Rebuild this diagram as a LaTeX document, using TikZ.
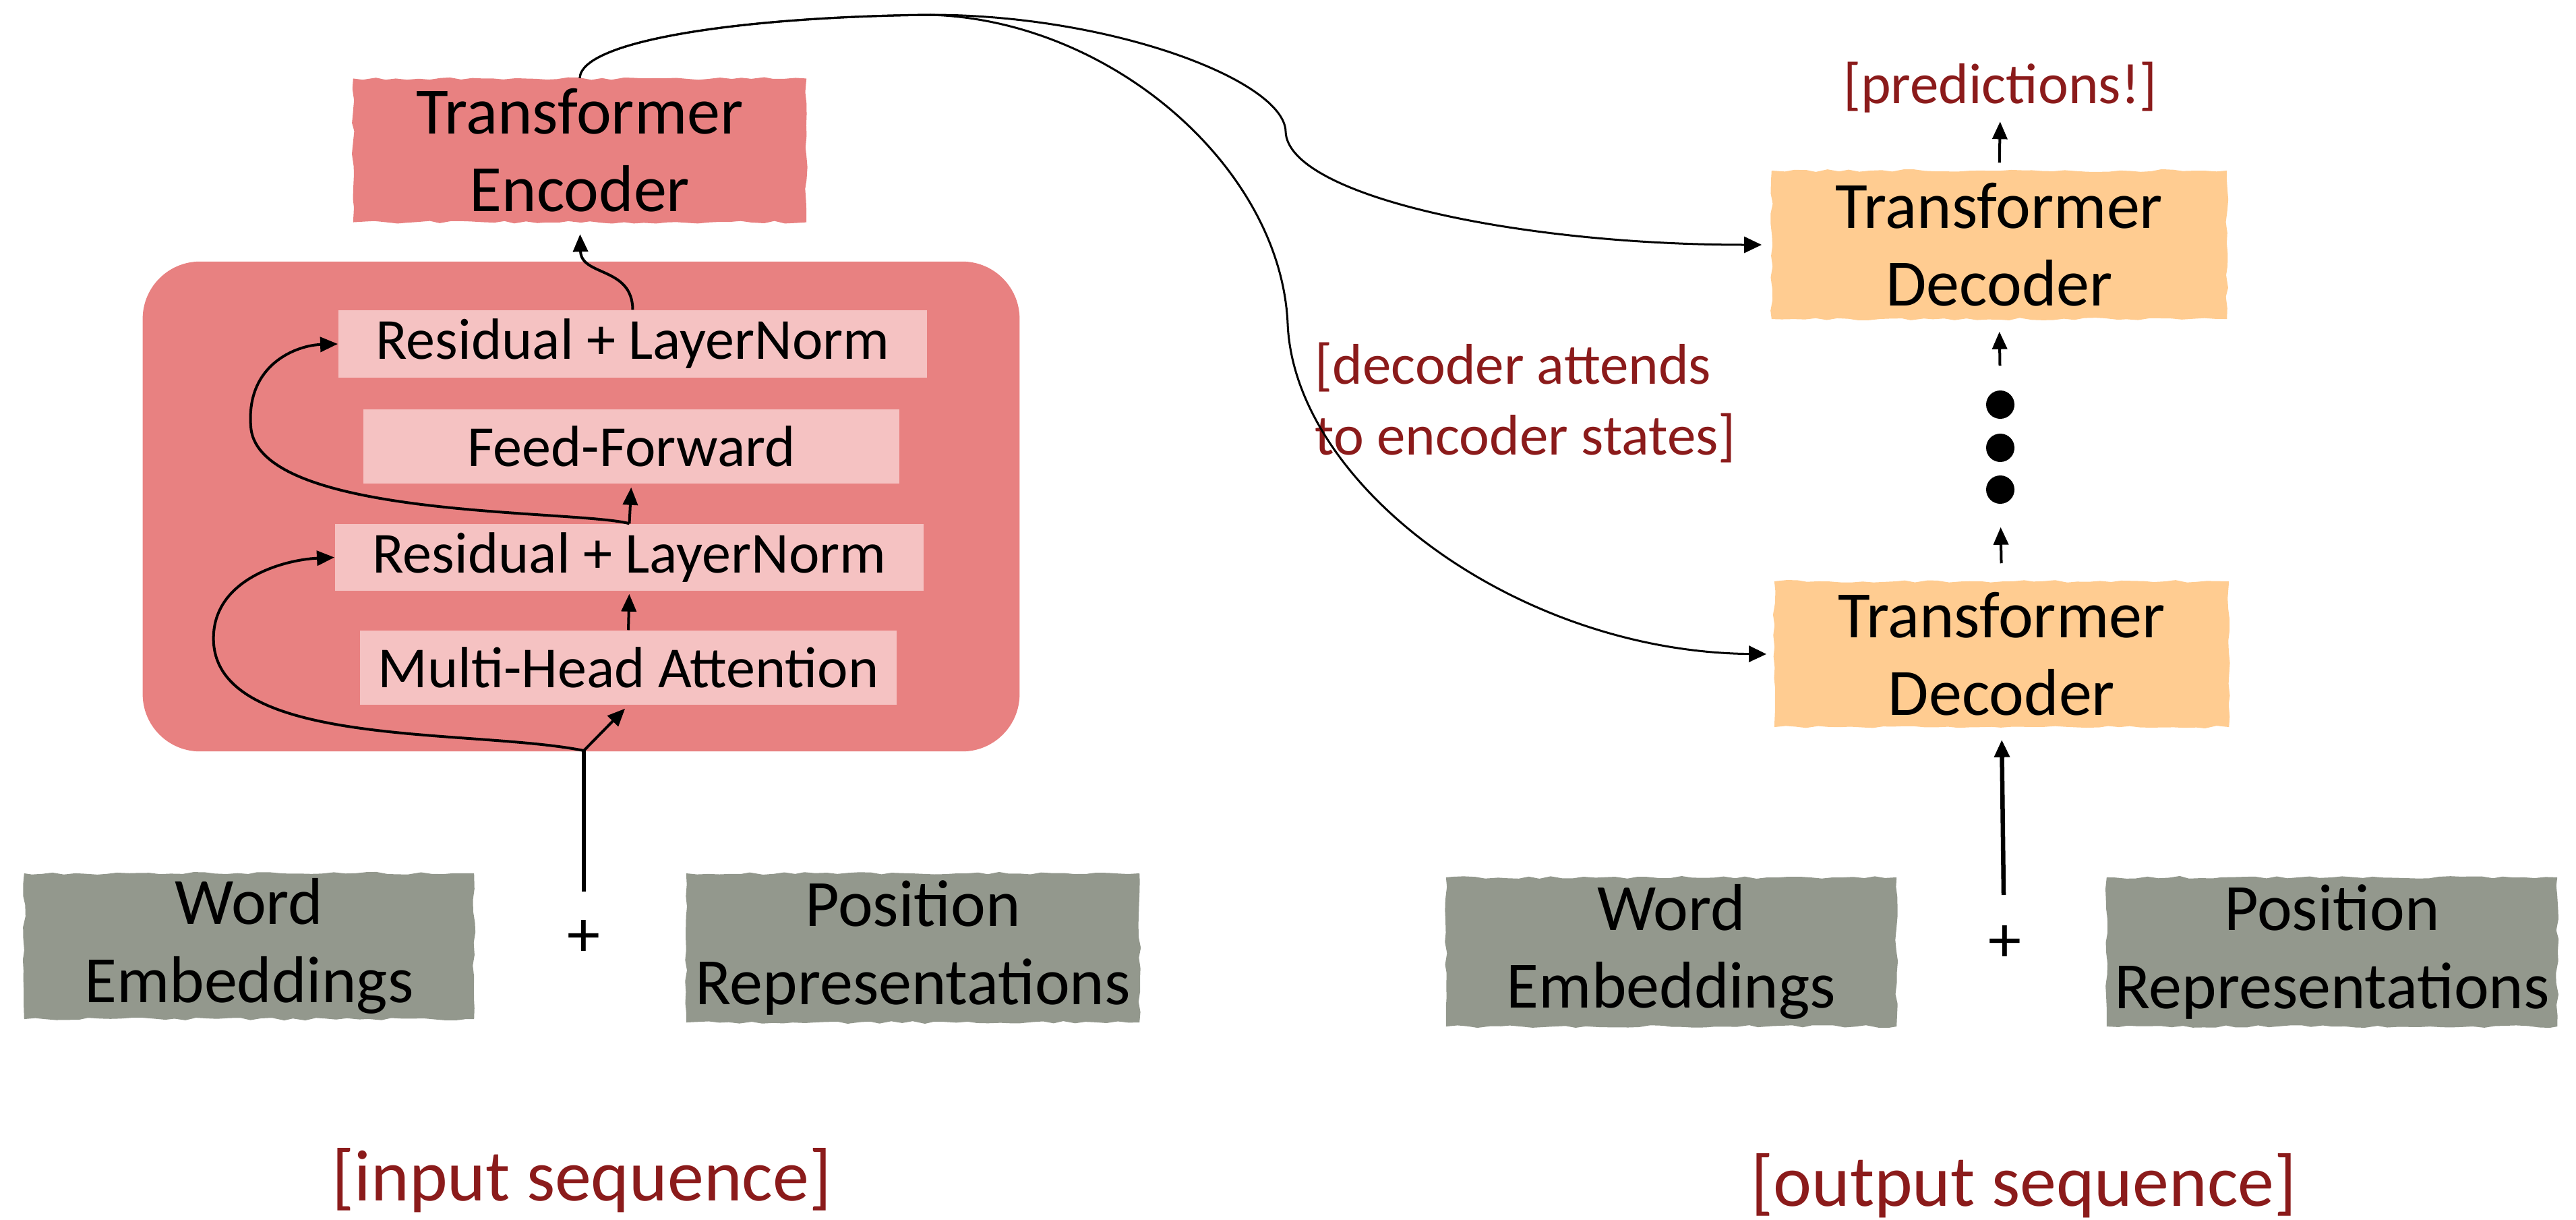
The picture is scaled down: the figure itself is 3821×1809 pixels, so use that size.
\documentclass[tikz,border=0pt]{standalone}
\usepackage{fontspec}
\setmainfont{Carlito}
\usetikzlibrary{arrows.meta,decorations.pathmorphing}

\definecolor{encred}{RGB}{232,129,129}
\definecolor{sublayer}{RGB}{245,194,194}
\definecolor{decorange}{RGB}{255,204,145}
\definecolor{embgray}{RGB}{147,152,141}
\definecolor{notered}{RGB}{139,27,27}

\newcommand{\boxfont}{\fontsize{27.9pt}{32.8pt}\selectfont}
\newcommand{\layerfont}{\fontsize{24.5pt}{29pt}\selectfont}
\newcommand{\notefont}{\fontsize{24.2pt}{29.8pt}\selectfont}
\newcommand{\seqfont}{\fontsize{30.7pt}{36pt}\selectfont}

\begin{document}
\pgfmathsetseed{12}
\begin{tikzpicture}[x=0.01cm, y=-0.01cm,
  rough/.style={decorate, decoration={random steps, segment length=0.16cm, amplitude=0.02cm}},
  bigblock/.style={fill=encred, rounded corners=0.85cm, inner sep=0pt},
  encbox/.style={rough, fill=encred, font=\boxfont, align=center, inner sep=0pt},
  decbox/.style={rough, fill=decorange, font=\boxfont, align=center, inner sep=0pt},
  embbox/.style={rough, fill=embgray, font=\boxfont, align=center, inner sep=0pt},
  sub/.style={fill=sublayer, font=\layerfont, inner sep=0pt},
  note/.style={text=notered, font=\notefont, inner sep=0pt},
  seqlabel/.style={text=notered, font=\seqfont, inner sep=0pt},
  plus/.style={font=\boxfont, inner sep=0pt},
  dot/.style={circle, fill=black, minimum size=0.42cm, inner sep=0pt},
  arr/.style={-{Triangle[length=0.26cm,width=0.22cm]}, line width=0.04cm},
  link/.style={-{Triangle[length=0.26cm,width=0.24cm]}, line width=0.03cm},
  feed/.style={line width=0.065cm},
]
\useasboundingbox (0,0) rectangle (3821,1809);

% ---------------- encoder side ----------------
\node[bigblock, minimum width=13cm, minimum height=7.26cm] (layer) at (862,751) {};
\node[sub, minimum width=8.73cm, minimum height=1.0cm]  (res2) at (938.5,510)  {Residual + LayerNorm};
\node[sub, minimum width=7.95cm, minimum height=1.10cm] (ff)   at (936.5,662)  {Feed-Forward};
\node[sub, minimum width=8.73cm, minimum height=0.99cm] (res1) at (933.5,826.5) {Residual + LayerNorm};
\node[sub, minimum width=7.96cm, minimum height=1.10cm] (mha)  at (932,990)    {Multi-Head Attention};

\node[encbox, minimum width=6.72cm, minimum height=2.13cm] (enc) at (860,223) {Transformer\\Encoder};

\node[embbox, minimum width=6.67cm, minimum height=2.16cm] (wordL) at (369.5,1403) {Word\\Embeddings};
\node[embbox, minimum width=6.72cm, minimum height=2.21cm] (posL)  at (1354,1405.5) {Position\\Representations};
\node[plus] (plusL) at (866,1392) {+};

\node[seqlabel] (inseq) at (863,1750) {[input sequence]};

% ---------------- decoder side ----------------
\node[decbox, minimum width=6.75cm, minimum height=2.20cm] (dec1) at (2965.5,363) {Transformer\\Decoder};
\node[decbox, minimum width=6.74cm, minimum height=2.16cm] (dec2) at (2969,970)   {Transformer\\Decoder};

\node[dot] (dot1) at (2967,600) {};
\node[dot] (dot2) at (2967,664) {};
\node[dot] (dot3) at (2967,726) {};

\node[note] (pred) at (2967,130) {[predictions!]};
\node[note, anchor=west, align=left] (attn) at (1950,597) {[decoder attends\\to encoder states]};

\node[embbox, minimum width=6.68cm, minimum height=2.21cm] (wordR) at (2479,1411.5) {Word\\Embeddings};
\node[embbox, minimum width=6.68cm, minimum height=2.21cm] (posR)  at (3459,1411.5) {Position\\Representations};
\node[plus] (plusR) at (2974,1400) {+};

\node[seqlabel] (outseq) at (3002,1758) {[output sequence]};

% ---------------- connectors: encoder block ----------------
\coordinate (inL)   at (866,1322);
\coordinate (fork1) at (866,1113);
\draw[feed] (inL) -- (fork1);
\draw[arr, shorten >=0.07cm] (fork1) -- (mha.south);
\draw[arr] (fork1) .. controls (700,1080) and (330,1110) .. (317,955)
               .. controls (310,860) and (420,830) .. (res1.west);
\draw[arr, shorten >=0.04cm] (mha.north) -- (res1.south);
\draw[arr, shorten >=0.05cm] (res1.north) -- (ff.south);
\draw[arr] (res1.north) .. controls (850,755) and (380,770) .. (372,632)
               .. controls (365,540) and (440,512) .. (res2.west);
\draw[arr, shorten >=0.17cm] (res2.north) .. controls (938,395) and (862,410) .. (enc.south);

% ---------------- connectors: encoder to decoders ----------------
\draw[link, shorten >=0.14cm] (enc.north) .. controls (862,60) and (1100,25) .. (1380,22)
     .. controls (1650,22) and (1905,120) .. (1907,195)
     .. controls (1910,290) and (2250,363) .. (dec1.west);
\draw[link, shorten >=0.11cm] (enc.north) .. controls (862,60) and (1100,25) .. (1380,22)
     .. controls (1650,30) and (1900,250) .. (1910,480)
     .. controls (1920,720) and (2250,966) .. (dec2.west);

% ---------------- connectors: decoder stack ----------------
\coordinate (inR) at (2972,1327);
\draw[feed, -{Triangle[length=0.26cm,width=0.22cm]}, shorten >=0.18cm] (inR) -- (dec2.south);
\draw[arr, shorten <=0.26cm, shorten >=0.34cm] (dec2.north) -- (dot3.south);
\draw[arr, shorten <=0.36cm, shorten >=0.18cm] (dot1.north) -- (dec1.south);
\draw[arr, shorten <=0.11cm, shorten >=0.12cm] (dec1.north) -- (pred.south);

\end{tikzpicture}
\end{document}
